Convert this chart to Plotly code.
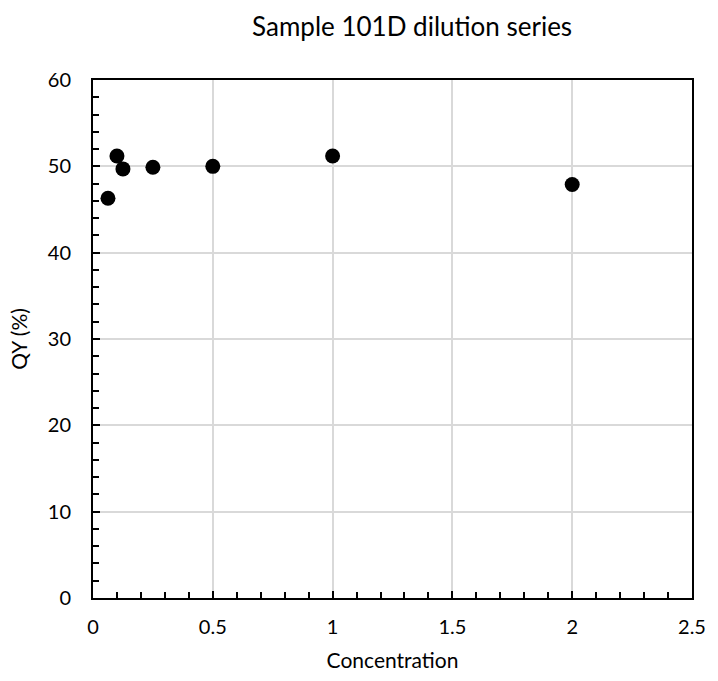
import plotly.graph_objects as go

# Dilution series measurements
concentration = [0.0625, 0.1, 0.125, 0.25, 0.5, 1.0, 2.0]
qy_percent = [46.3, 51.2, 49.7, 49.9, 50.0, 51.2, 47.9]

x_ticks = [0, 0.5, 1, 1.5, 2, 2.5]
x_tick_labels = ["0", "0.5", "1", "1.5", "2", "2.5"]
y_ticks = [0, 10, 20, 30, 40, 50, 60]

font_family = "Lato, Carlito, 'Open Sans', sans-serif"

fig = go.Figure(
    go.Scatter(
        x=concentration,
        y=qy_percent,
        mode="markers",
        marker=dict(color="black", size=15),
        showlegend=False,
    )
)

axis_common = dict(
    showline=True,
    linecolor="black",
    linewidth=2,
    mirror=True,
    showgrid=True,
    gridcolor="#d9d9d9",
    gridwidth=1.5,
    zeroline=False,
    ticks="inside",
    ticklen=7,
    tickwidth=2,
    tickcolor="black",
    tickfont=dict(family=font_family, size=20, color="black"),
    title_font=dict(family=font_family, size=21, color="black"),
)

fig.update_xaxes(
    range=[0, 2.5],
    tickvals=x_ticks,
    ticktext=x_tick_labels,
    title_text="Concentration",
    title_standoff=16,
    ticklabelstandoff=10,
    minor=dict(ticks="inside", dtick=0.1, ticklen=6, tickwidth=2,
               tickcolor="black", showgrid=False),
    **axis_common,
)
fig.update_yaxes(
    range=[0, 60],
    tickvals=y_ticks,
    title_text="QY (%)",
    title_standoff=14,
    ticklabelstandoff=16,
    minor=dict(ticks="inside", dtick=2, ticklen=6, tickwidth=2,
               tickcolor="black", showgrid=False),
    **axis_common,
)

fig.update_layout(
    width=718,
    height=681,
    margin=dict(l=93, r=16, t=80, b=82),
    plot_bgcolor="white",
    paper_bgcolor="white",
    title=dict(
        text="Sample 101D dilution series",
        x=0.574,
        xanchor="center",
        y=0.961,
        yanchor="middle",
        font=dict(family=font_family, size=26, color="black"),
    ),
)

fig.write_html("out.html")
